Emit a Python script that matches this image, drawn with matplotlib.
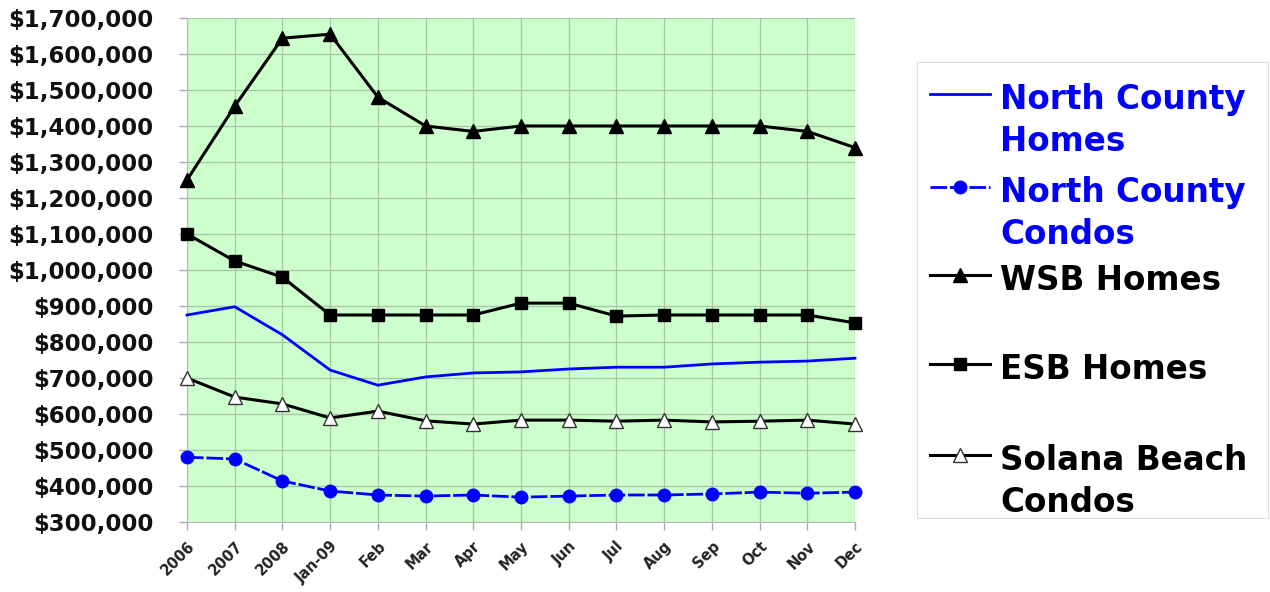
import matplotlib
matplotlib.use("Agg")
import matplotlib.pyplot as plt
from matplotlib.ticker import FuncFormatter

# data
months = ["2006", "2007", "2008", "Jan-09", "Feb", "Mar", "Apr", "May",
          "Jun", "Jul", "Aug", "Sep", "Oct", "Nov", "Dec"]

nc_homes = [875000, 898000, 820000, 722000, 680000, 703000, 714000, 717000,
            725000, 730000, 730000, 739000, 744000, 747000, 755000]
nc_condos = [480000, 475000, 414000, 386000, 375000, 372000, 375000, 369000,
             372000, 375000, 375000, 378000, 383000, 380000, 383000]
wsb_homes = [1250000, 1455000, 1644000, 1655000, 1480000, 1400000, 1385000,
             1400000, 1400000, 1400000, 1400000, 1400000, 1400000, 1385000,
             1340000]
esb_homes = [1100000, 1025000, 980000, 875000, 875000, 875000, 875000,
             908000, 908000, 872000, 875000, 875000, 875000, 875000, 853000]
solana_condos = [700000, 647000, 628000, 589000, 608000, 581000, 572000,
                 583000, 583000, 580000, 583000, 578000, 580000, 583000,
                 572000]

labels = ["North County\nHomes", "North County\nCondos", "WSB Homes",
          "ESB Homes", "Solana Beach\nCondos"]
label_colors = ["#0000ff", "#0000ff", "black", "black", "black"]

yticks = list(range(300000, 1700001, 100000))

fig = plt.figure(figsize=(12.7, 5.92), dpi=100)
ax = fig.add_axes([187/1270, 1 - 522/592, (855-187)/1270, (522-18)/592])
ax.set_facecolor("#ccffcc")

x = list(range(len(months)))
lines = [
    dict(color="#0000ff", lw=2.0),
    dict(color="#0000ff", lw=2.0, ls=(0, (6, 1))),
    dict(color="black", lw=2.2),
    dict(color="black", lw=2.2),
    dict(color="black", lw=2.2),
]
marks = [
    dict(marker=None),
    dict(marker="o", ms=9, mfc="#0000ff", mec="#0000ff"),
    dict(marker="^", ms=10.5, mfc="black", mec="black"),
    dict(marker="s", ms=8, mfc="black", mec="black"),
    dict(marker="^", ms=10.5, mfc="white", mec="#333333", mew=1),
]
series = [nc_homes, nc_condos, wsb_homes, esb_homes, solana_condos]
order = [0, 1, 4, 3, 2]
for i in order:
    ax.plot(x, series[i], clip_on=False, zorder=3 + i, **lines[i], **marks[i])

ax.set_xlim(0, len(months) - 1)
ax.set_ylim(300000, 1700000)
ax.set_yticks(yticks)
ax.yaxis.set_major_formatter(FuncFormatter(lambda v, p: "${:,.0f}".format(v)))
ax.set_xticks(x)
ax.set_xticklabels(months, rotation=45, ha="right", rotation_mode="anchor",
                   fontsize=10.5, fontweight="bold", color="#222222")
for t in ax.get_yticklabels():
    t.set_fontsize(16.5)
    t.set_fontweight("bold")
    t.set_color("#111111")

ax.grid(True, color="#a6c6a6", lw=0.9, zorder=0)
ax.set_axisbelow(True)
for s in ["top", "right"]:
    ax.spines[s].set_visible(False)
for s in ["left", "bottom"]:
    ax.spines[s].set_color("#bbbbbb")
ax.tick_params(axis="both", colors="#aaaaaa", length=6, width=1)
ax.tick_params(axis="y", labelcolor="#111111", pad=18)
ax.tick_params(axis="x", labelcolor="#222222", pad=6)

# legend drawn in its own box, pixel-like coords
lg = fig.add_axes([917/1270, 1 - 518/592, (1268-917)/1270, (518-62)/592])
lg.set_xlim(0, 351)
lg.set_ylim(456, 0)
lg.set_xticks([])
lg.set_yticks([])
for s in lg.spines.values():
    s.set_color("#dddddd")
handle_y = [94 - 62, 187 - 62, 275 - 62, 364 - 62, 455 - 62]
for i in range(len(labels)):
    lg.plot([13, 73], [handle_y[i], handle_y[i]], **lines[i])
    lg.plot([43], [handle_y[i]], ls="none", color=lines[i]["color"], **marks[i])
    lg.text(83, handle_y[i] - 11, labels[i], color=label_colors[i],
            fontsize=23.5, fontweight="bold", va="top", ha="left",
            linespacing=1.33)

fig.savefig("out.png", dpi=100)
